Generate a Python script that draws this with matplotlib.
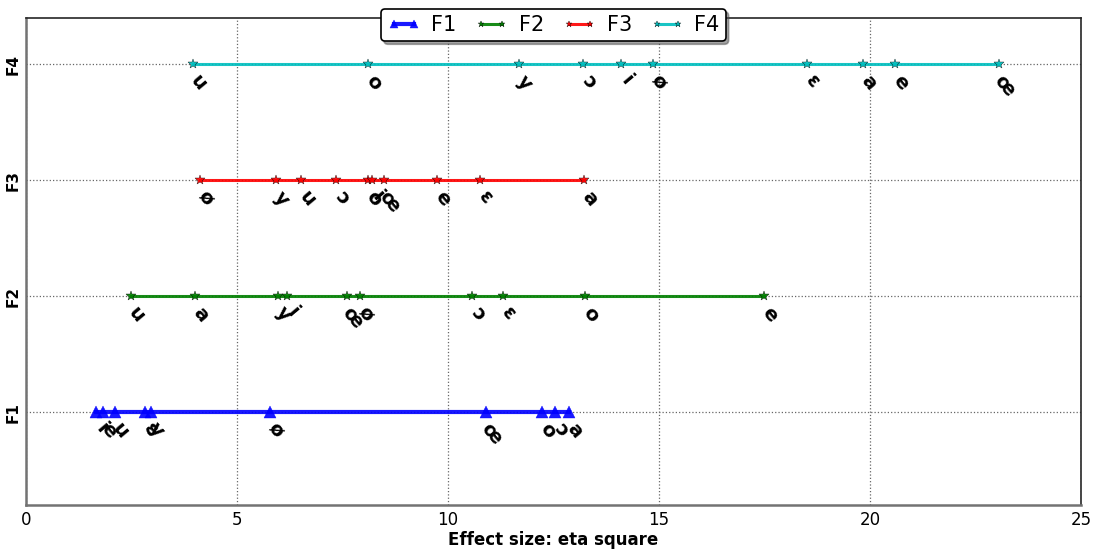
import matplotlib
matplotlib.use('Agg')
import matplotlib.pyplot as plt

# effect sizes (eta square) per formant, with vowel labels
f1_vals = [1.66, 1.82, 2.11, 2.82, 2.96, 5.78, 10.9, 12.23, 12.54, 12.87]
f1_labs = ['i', 'e', 'u', 'ɛ', 'y', 'ø', 'œ', 'o', 'ɔ', 'a']
f2_vals = [2.49, 4.0, 5.97, 6.18, 7.61, 7.91, 10.57, 11.30, 13.25, 17.49]
f2_labs = ['u', 'a', 'y', 'i', 'œ', 'ø', 'ɔ', 'ɛ', 'o', 'e']
f3_vals = [4.12, 5.92, 6.52, 7.35, 8.10, 8.20, 8.48, 9.74, 10.76, 13.22]
f3_labs = ['ø', 'y', 'u', 'ɔ', 'o', 'i', 'œ', 'e', 'ɛ', 'a']
f4_vals = [3.96, 8.10, 11.68, 13.20, 14.10, 14.86, 18.51, 19.83, 20.59, 23.06]
f4_labs = ['u', 'o', 'y', 'ɔ', 'i', 'ø', 'ɛ', 'a', 'e', 'œ']

names = ['F1', 'F2', 'F3', 'F4']


def main():
    fig = plt.figure(figsize=(10.96, 5.54), dpi=100)
    ax = fig.add_axes([0.0237, 0.0884, 0.9626, 0.879])

    series = [(f1_vals, f1_labs, 'b', '^', 8),
              (f2_vals, f2_labs, 'g', '*', 7),
              (f3_vals, f3_labs, 'r', '*', 7),
              (f4_vals, f4_labs, 'c', '*', 7)]
    for i, (vals, labs, col, mk, ms) in enumerate(series):
        y = i + 1
        ax.plot(vals, [y] * len(vals), color=col, marker=mk, markersize=ms,
                lw=3 if i == 0 else 2.2, alpha=0.9, label=names[i],
                markeredgecolor='k' if col != 'b' else 'b', markeredgewidth=0.3)
        for v, l in zip(vals, labs):
            ax.annotate(l, (v, y), xytext=(4, -5), textcoords='offset points',
                        rotation=-50, ha='center', va='top', fontsize=14,
                        fontweight='bold')

    ax.set_xlim(0, 25)
    ax.set_ylim(0.2, 4.4)
    ax.set_xticks([0, 5, 10, 15, 20, 25])
    ax.set_yticks([1, 2, 3, 4])
    ax.set_yticklabels(names, rotation=90, fontweight='bold', fontsize=11,
                       va='center')
    ax.tick_params(axis='both', length=0, pad=4)
    ax.tick_params(axis='x', labelsize=12)
    ax.grid(True, ls=':', color='0.4', lw=0.9)
    ax.set_xlabel('Effect size: eta square', fontweight='bold', fontsize=12,
                  labelpad=2)
    for k in ['left', 'bottom']:
        ax.spines[k].set_color('0.45')
        ax.spines[k].set_linewidth(1.8)
    for k in ['top', 'right']:
        ax.spines[k].set_color('0.15')
        ax.spines[k].set_linewidth(1.2)

    leg = ax.legend(loc='upper center', bbox_to_anchor=(0.5, 1.04), ncol=4,
                    numpoints=2, fontsize=15, shadow=True, fancybox=True,
                    framealpha=1, edgecolor='k', handlelength=1.6,
                    columnspacing=0.9, handletextpad=0.5, borderpad=0.3,
                    markerscale=0.7)
    leg.get_frame().set_linewidth(1.2)

    fig.savefig('out.png', dpi=100)


if __name__ == '__main__':
    main()
